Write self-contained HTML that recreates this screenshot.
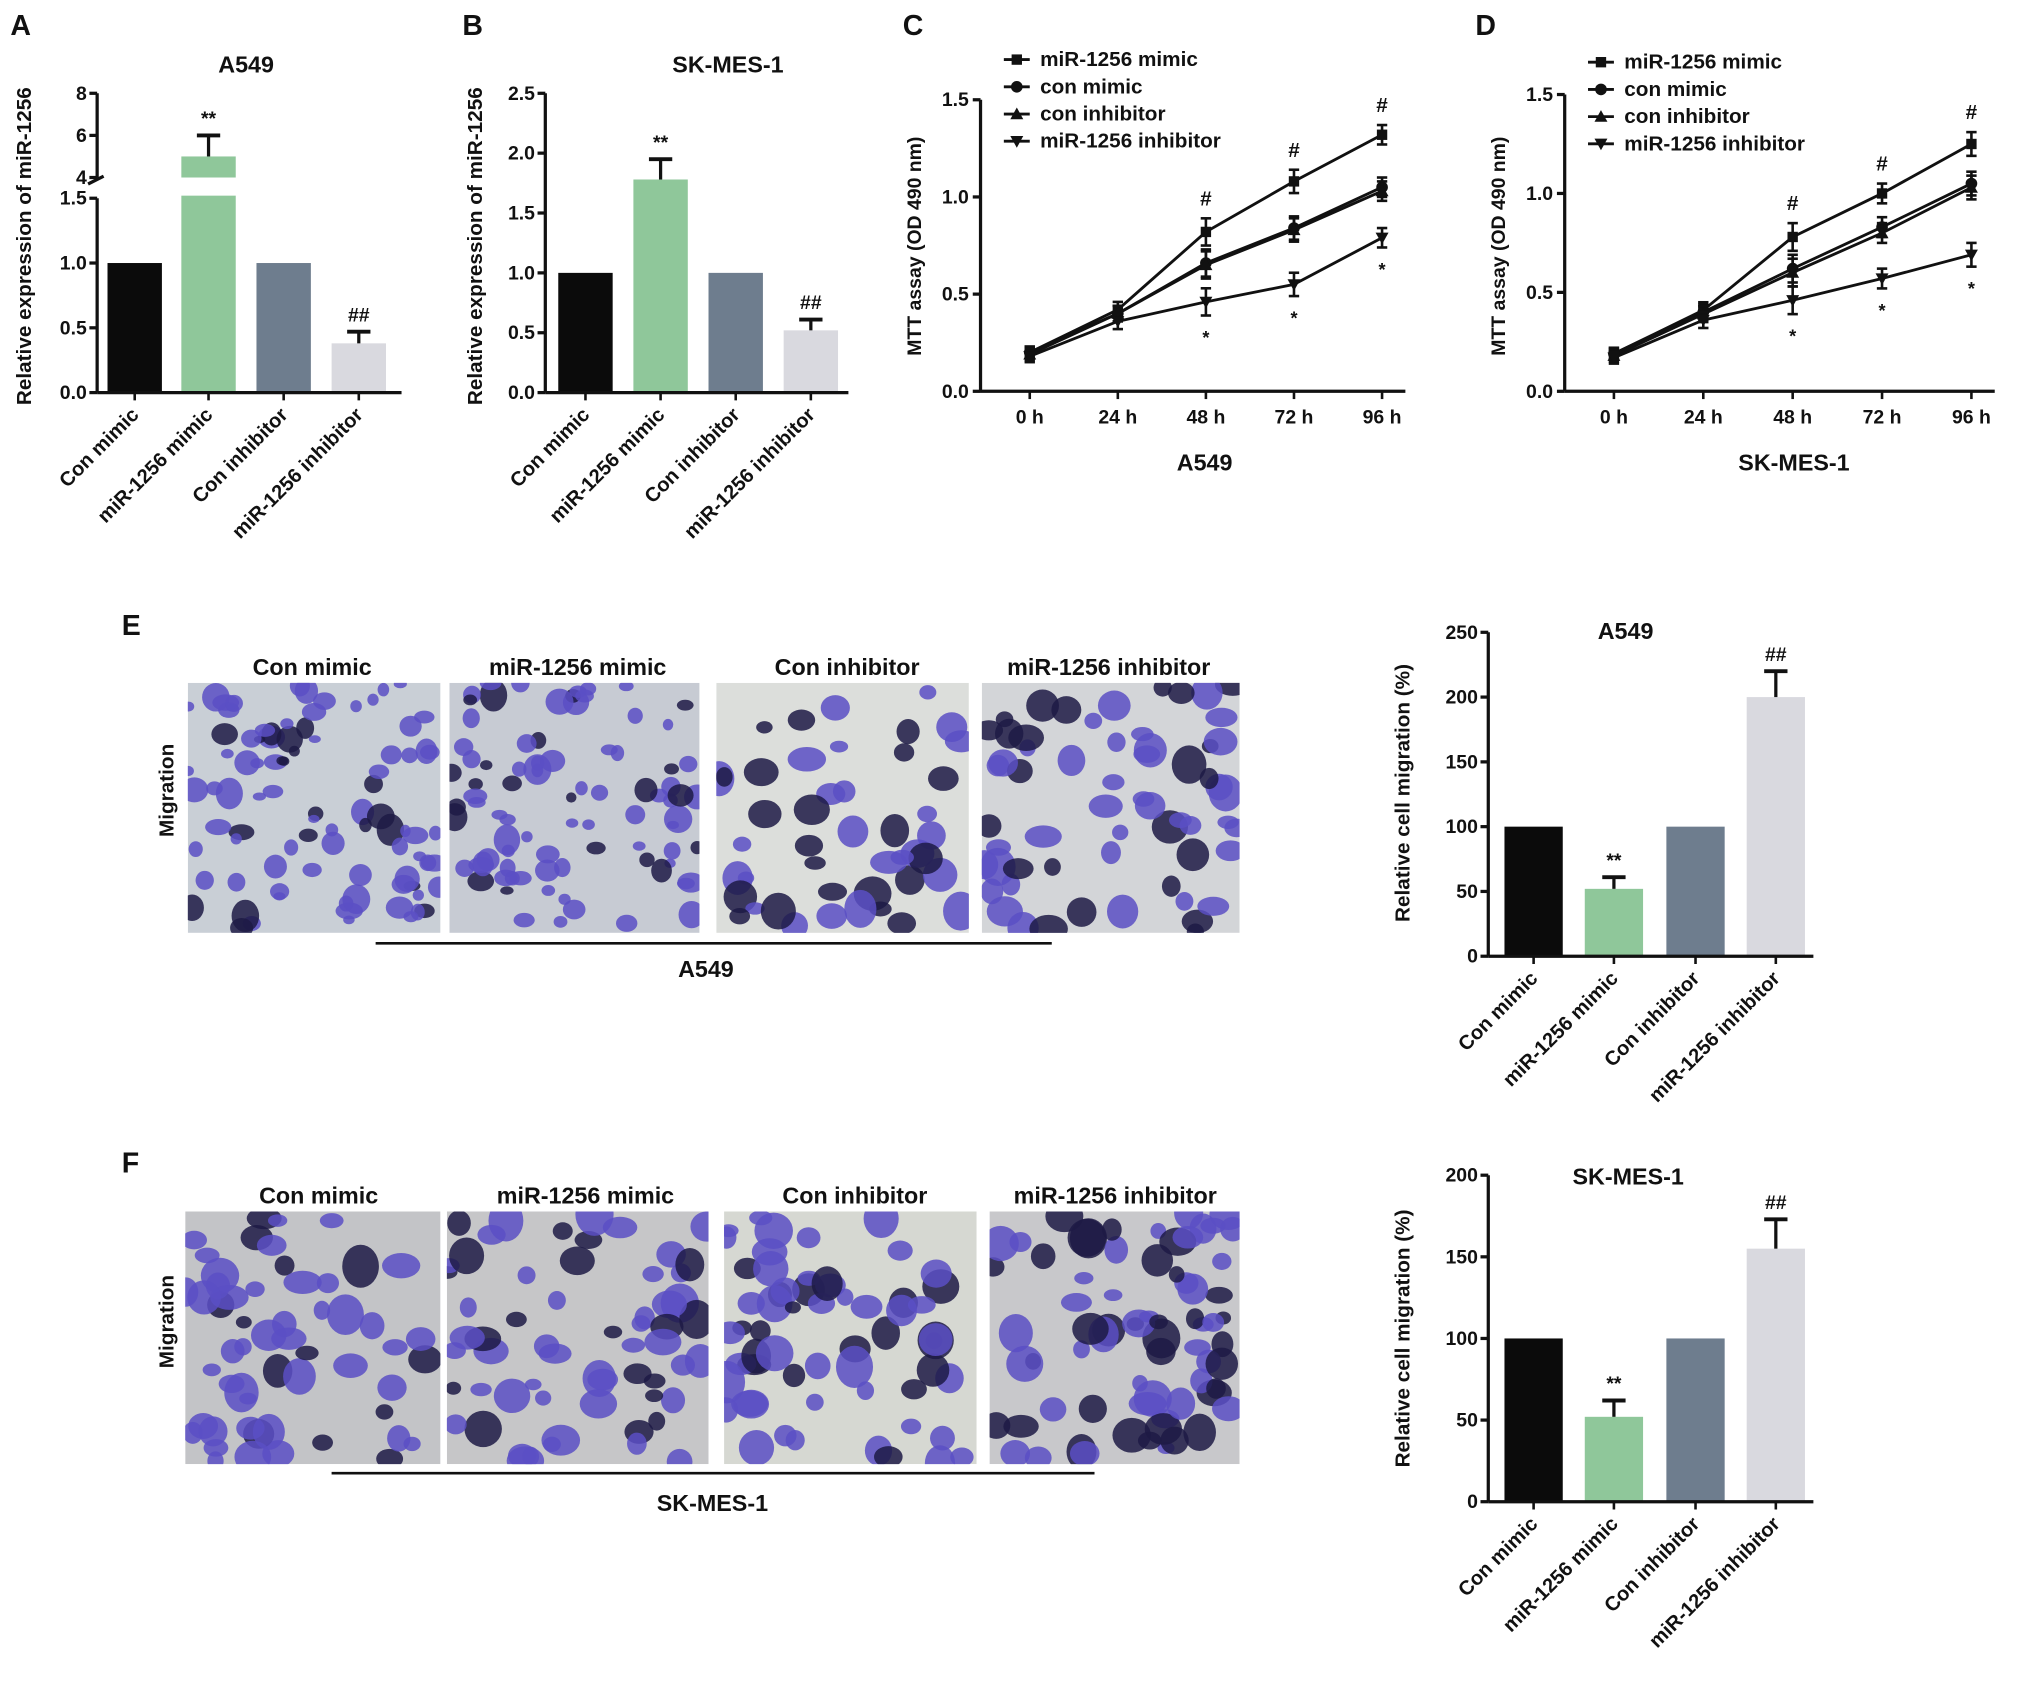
<!DOCTYPE html>
<html><head><meta charset="utf-8"><style>
html,body{margin:0;padding:0;background:#fff}
svg{display:block}
text{font-family:"Liberation Sans",Arial,sans-serif;font-weight:bold;fill:#111}
</style></head><body>
<svg id="fig" width="2031" height="1687" viewBox="0 0 1568 1302" preserveAspectRatio="none" xmlns="http://www.w3.org/2000/svg"></svg>
<script>
// ---------- data ----------
const barCats = ["Con mimic","miR-1256 mimic","Con inhibitor","miR-1256 inhibitor"];
const barColors = ["#0b0b0b","#8fc79a","#6e7d8e","#d9d9df"];
const aVals = [1, 5, 1, 0.38];
const aErr = [0, 1.0, 0, 0.09];
const bVals = [1, 1.78, 1, 0.52];
const bErr = [0, 0.17, 0, 0.09];
const eVals = [100, 52, 100, 200];
const eErr = [0, 9, 0, 20];
const fVals = [100, 52, 100, 155];
const fErr = [0, 10, 0, 18];
const timeCats = ["0 h","24 h","48 h","72 h","96 h"];
const seriesNames = ["miR-1256 mimic","con mimic","con inhibitor","miR-1256 inhibitor"];
const cMimic = [0.20,0.42,0.82,1.08,1.32];
const cConMimic = [0.20,0.40,0.66,0.84,1.05];
const cConInh = [0.19,0.40,0.65,0.83,1.03];
const cInh = [0.18,0.36,0.46,0.55,0.79];
const cErr = [0.03,0.04,0.07,0.06,0.05];
const dMimic = [0.19,0.41,0.78,1.00,1.25];
const dConMimic = [0.19,0.40,0.62,0.83,1.05];
const dConInh = [0.18,0.39,0.60,0.80,1.03];
const dInh = [0.17,0.36,0.46,0.57,0.69];
const dErr = [0.03,0.04,0.07,0.05,0.06];
const aTicksLow = [0,0.5,1.0,1.5];
const aTicksHigh = [4,6,8];
const bTicks = [0,0.5,1.0,1.5,2.0,2.5];
const lineTicks = [0,0.5,1.0,1.5];
const eTicks = [0,50,100,150,200,250];
const fTicks = [0,50,100,150,200];

const svg = document.getElementById('fig');
const NS = "http://www.w3.org/2000/svg";
function el(tag, attrs, parent, txt){
  const e = document.createElementNS(NS, tag);
  for (const k in attrs) e.setAttribute(k, attrs[k]);
  if (txt !== undefined) e.textContent = txt;
  (parent||svg).appendChild(e);
  return e;
}
function grp(name){ const g = el('g',{});   return g; }
function txt(g, x, y, s, size, anchor, name, extra){
  const t = el('text', Object.assign({x:x,y:y,'font-size':size,'text-anchor':anchor||'middle'}, extra||{}), g, s);
  
  
  return t;
}
function line(g,x1,y1,x2,y2,w){ return el('line',{x1,y1,x2,y2,stroke:'#111','stroke-width':w||2.5},g); }

function barChart(name, opt){
  const g = grp(name);
  const ax = opt.ax, y0 = opt.y0;
  const yS = v => opt.yScale(v);
  opt.vals.forEach((v,i)=>{
    const cx = opt.cx[i], w = opt.bw;
    const y = yS(v);
    const r = el('rect',{x:cx-w/2,y:y,width:w,height:y0-y,fill:barColors[i]},g);
    
    
    if (opt.err[i]>0){
      const ye = yS(v+opt.err[i]);
      line(g,cx,y,cx,ye,2.5); line(g,cx-9,ye,cx+9,ye,3);
    }
    if (opt.marks[i]) txt(g,cx,yS(v+opt.err[i])-8,opt.marks[i],15,'middle','significance-mark',{fill:opt.marks[i]=='**'?'#555':'#333'});
  });
  if (opt.breakFn) opt.breakFn(g);
  line(g,ax,y0,opt.xEnd,y0,2.5);
  opt.cx.forEach(cx=>line(g,cx,y0,cx,y0+6,2));
  opt.axisSegs.forEach(s=>line(g,ax,s[0],ax,s[1],2.5));
  opt.ticks.forEach(t=>{ const y=yS(t); line(g,ax-6,y,ax,y,2.5);
    txt(g,ax-8,y+5,opt.fmt(t),15,'end','y-tick-label'); });
  txt(g,opt.titleX,opt.titleY,opt.title,18,'middle','chart-title');
  txt(g,0,0,opt.ylabel,16,'middle','y-axis-title',{transform:`translate(${opt.ylx},${opt.yly}) rotate(-90)`});
  barCats.forEach((c,i)=>{
    txt(g,0,0,c,15.5,'end','x-tick-label',{transform:`translate(${opt.cx[i]+4},${y0+18}) rotate(-45)`});
  });
}

const aY = v => v<=1.5 ? 303 - v*100 : 137 - (v-4)*16.25;
barChart('panel-a-chart',{ax:75,y0:303,xEnd:310,yScale:aY,vals:aVals,err:aErr,cx:[104,161,219,277],bw:42,
  marks:['','**','','##'],axisSegs:[[303,153],[137,72]],ticks:aTicksLow.concat(aTicksHigh),
  fmt:t=>Number.isInteger(t)&&t>=4?String(t):t.toFixed(1),title:'A549',titleX:190,titleY:56,ylabel:'Relative expression of miR-1256',ylx:24,yly:190,
  breakFn:g=>{ el('rect',{x:138,y:aY(1.5)-16,width:46,height:14,fill:'#fff'},g); line(g,68,142,80,136,2.5); }});
const bY = v => 303 - v*92.4;
barChart('panel-b-chart',{ax:421,y0:303,xEnd:655,yScale:bY,vals:bVals,err:bErr,cx:[452,510,568,626],bw:42,
  marks:['','**','','##'],axisSegs:[[303,72]],ticks:bTicks,fmt:t=>t.toFixed(1),title:'SK-MES-1',titleX:562,titleY:56,
  ylabel:'Relative expression of miR-1256',ylx:372,yly:190});
const eY = v => 738 - v*1.0;
barChart('panel-e-chart',{ax:1149,y0:738,xEnd:1400,yScale:eY,vals:eVals,err:eErr,cx:[1184,1246,1309,1371],bw:45,
  marks:['','**','','##'],axisSegs:[[738,488]],ticks:eTicks,fmt:t=>String(t),title:'A549',titleX:1255,titleY:493,
  ylabel:'Relative cell migration (%)',ylx:1088,yly:612});
const fY = v => 1159 - v*1.26;
barChart('panel-f-chart',{ax:1149,y0:1159,xEnd:1400,yScale:fY,vals:fVals,err:fErr,cx:[1184,1246,1309,1371],bw:45,
  marks:['','**','','##'],axisSegs:[[1159,907]],ticks:fTicks,fmt:t=>String(t),title:'SK-MES-1',titleX:1257,titleY:914,
  ylabel:'Relative cell migration (%)',ylx:1088,yly:1033});

function marker(g,type,x,y){
  if(type==0) return el('rect',{x:x-4,y:y-4,width:8,height:8,fill:'#111'},g);
  if(type==1) return el('circle',{cx:x,cy:y,r:4.5,fill:'#111'},g);
  if(type==2) return el('polygon',{points:`${x-5},${y+4} ${x+5},${y+4} ${x},${y-5}`,fill:'#111'},g);
  return el('polygon',{points:`${x-5},${y-4} ${x+5},${y-4} ${x},${y+5}`,fill:'#111'},g);
}
function lineChart(name,o){
  const g = grp(name);
  const xS = i => o.x0 + i*o.dx, yS = v => o.y0 - v*o.k;
  o.series.forEach((s,si)=>{
    const pts = s.map((v,i)=>xS(i)+','+yS(v)).join(' ');
    const p = el('polyline',{points:pts,fill:'none',stroke:'#111','stroke-width':2.2},g);
    
    
    s.forEach((v,i)=>{
      const e=o.err[i]; line(g,xS(i),yS(v-e),xS(i),yS(v+e),2);
      line(g,xS(i)-4,yS(v+e),xS(i)+4,yS(v+e),2); line(g,xS(i)-4,yS(v-e),xS(i)+4,yS(v-e),2);
      marker(g,si,xS(i),yS(v));
    });
  });
  for(let i=2;i<5;i++){
    txt(g,xS(i),yS(o.series[0][i]+o.err[i])-10,'#',16,'middle','hash-mark');
    txt(g,xS(i),yS(o.series[3][i]-o.err[i])+22,'*',14,'middle','star-mark');
  }
  line(g,o.ax,o.y0,o.xEnd,o.y0,2.5); line(g,o.ax,o.y0,o.ax,yS(1.5),2.5);
  lineTicks.forEach(t=>{ line(g,o.ax-6,yS(t),o.ax,yS(t),2.5); txt(g,o.ax-9,yS(t)+5,t.toFixed(1),15,'end','y-tick-label'); });
  timeCats.forEach((c,i)=>{ line(g,xS(i),o.y0,xS(i),o.y0+6,2); txt(g,xS(i),o.y0+25,c,15,'middle','x-tick-label'); });
  txt(g,o.cx,o.y0+61,o.title,18,'middle','x-axis-title');
  txt(g,0,0,'MTT assay (OD 490 nm)',15,'middle','y-axis-title',{transform:`translate(${o.ax-46},${o.y0-112}) rotate(-90)`});
  seriesNames.forEach((n,i)=>{
    const ly=o.ly+i*21; line(g,o.lx,ly,o.lx+20,ly,2.2); marker(g,i,o.lx+10,ly);
    txt(g,o.lx+28,ly+5,n,16,'start','legend-entry');
  });
}
lineChart('panel-c-chart',{x0:795,dx:68,y0:302,k:150,ax:757,xEnd:1085,series:[cMimic,cConMimic,cConInh,cInh],err:cErr,title:'A549',cx:930,lx:775,ly:46});
lineChart('panel-d-chart',{x0:1246,dx:69,y0:302,k:152.7,ax:1208,xEnd:1540,series:[dMimic,dConMimic,dConInh,dInh],err:dErr,title:'SK-MES-1',cx:1385,lx:1226,ly:48});

[['A',8,27],['B',357,27],['C',697,27],['D',1139,27],['E',94,490],['F',94,905]].forEach(a=>txt(svg,a[1],a[2],a[0],22,'start','panel-label-'+a[0].toLowerCase()));

const defs = el('defs',{});
let clipN = 0;
function micro(name,x,y,w,h,bg,cells,seed,dark){
  const g=grp(name);
  const id='clip'+(clipN++);
  const cp=el('clipPath',{id:id},defs); el('rect',{x,y,width:w,height:h},cp);
  g.setAttribute('clip-path','url(#'+id+')');
  el('rect',{x,y,width:w,height:h,fill:bg},g);
  let s=seed;
  const rnd=()=>{s=(s*9301+49297)%233280;return s/233280;};
  for(let i=0;i<cells;i++){
    const cx=x+rnd()*w, cy=y+rnd()*h, r=(dark?6:4)+rnd()*(dark?9:7);
    el('ellipse',{cx,cy,rx:r,ry:r*(0.6+rnd()*0.6),fill:rnd()<(dark?0.35:0.2)?'#1d1a45':'#5a4fc4','fill-opacity':0.85},g);
  }
}
const eImgs=[[145,195,'#c9cfd6',90,3,false],[347,193,'#c7cbd3',85,7,false],[553,195,'#dcdedb',45,11,true],[758,199,'#d3d5d8',60,13,true]];
eImgs.forEach((m,i)=>micro('migration-image-e-'+(i+1),m[0],527,m[1],193,m[2],m[3],m[4],m[5]));
const fImgs=[[143,197,'#c3c4c7',55,17],[345,202,'#c6c6c8',60,19],[559,195,'#d6d8d2',60,23],[764,193,'#c8c8cb',70,29]];
fImgs.forEach((m,i)=>micro('migration-image-f-'+(i+1),m[0],935,m[1],195,m[2],m[3],m[4],true));
const eg=grp('panel-e-images-labels');
['Con mimic','miR-1256 mimic','Con inhibitor','miR-1256 inhibitor'].forEach((c,i)=>txt(eg,[241,446,654,856][i],521,c,18,'middle','image-column-label'));
line(eg,290,728,812,728,2); txt(eg,545,754,'A549',18,'middle','cell-line-label');
txt(eg,0,0,'Migration',16,'middle','row-label',{transform:'translate(134,610) rotate(-90)'});
const fg=grp('panel-f-images-labels');
['Con mimic','miR-1256 mimic','Con inhibitor','miR-1256 inhibitor'].forEach((c,i)=>txt(fg,[246,452,660,861][i],929,c,18,'middle','image-column-label'));
line(fg,256,1137,845,1137,2); txt(fg,550,1166,'SK-MES-1',18,'middle','cell-line-label');
txt(fg,0,0,'Migration',16,'middle','row-label',{transform:'translate(134,1020) rotate(-90)'});
</script>
</body></html>
